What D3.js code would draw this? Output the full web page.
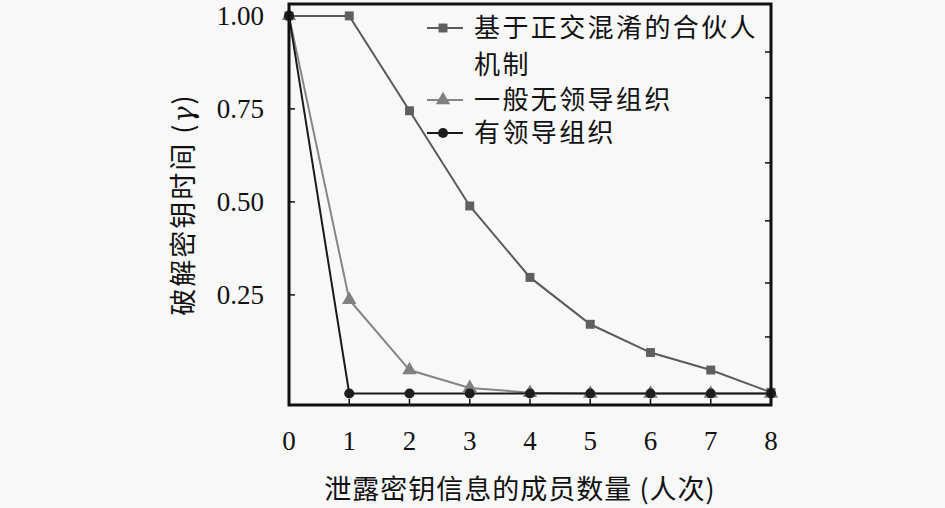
<!DOCTYPE html>
<html>
<head>
<meta charset="utf-8">
<script src="https://cdn.jsdelivr.net/npm/d3@7"></script>
<style>
  html, body { margin: 0; padding: 0; background: #f8f8f8; }
  svg { display: block; }
</style>
</head>
<body>
<div id="chart"></div>
<script>
// data
var xValues = [0, 1, 2, 3, 4, 5, 6, 7, 8];
var partnerVals = [1.00, 1.00, 0.745, 0.489, 0.297, 0.171, 0.095, 0.048, -0.012];
var leaderlessVals = [1.00, 0.237, 0.048, 0.000, -0.013, -0.015, -0.015, -0.015, -0.015];
var leaderVals = [1.00, -0.015, -0.015, -0.015, -0.015, -0.015, -0.015, -0.015, -0.015];
var yTickVals = [0.25, 0.50, 0.75, 1.00];
var yRightTicks = [0.137, 0.282, 0.449, 0.605, 0.780, 0.903];
var seriesNames = ["基于正交混淆的合伙人机制", "一般无领导组织", "有领导组织"];

var width = 945, height = 508;
var plot = { left: 289, right: 771, top: 4, bottom: 405 };

var svg = d3.select("#chart")
    .append("svg")
    .attr("width", width)
    .attr("height", height);

svg.append("rect")
    .attr("width", width)
    .attr("height", height)
    .attr("fill", "#f8f8f8");

var x = d3.scaleLinear()
    .domain([0, 8])
    .range([plot.left, plot.right]);

var y = d3.scaleLinear()
    .domain([-0.046, 1.032])
    .range([plot.bottom, plot.top]);

var series = [
    { name: seriesNames[0], values: partnerVals, color: "#5f5f5f", line: "#5a5a5a", shape: "square" },
    { name: seriesNames[1], values: leaderlessVals, color: "#808080", line: "#858585", shape: "triangle" },
    { name: seriesNames[2], values: leaderVals, color: "#1e1e1e", line: "#1a1a1a", shape: "circle" }
];

function symbolFor(shape) {
    if (shape === "square") return d3.symbol().type(d3.symbolSquare).size(80);
    if (shape === "triangle") return d3.symbol().type(d3.symbolTriangle).size(90);
    return d3.symbol().type(d3.symbolCircle).size(80);
}

// inward ticks
var tickLen = 6;
var ticks = svg.append("g").attr("stroke", "#111").attr("stroke-width", 1.5);

xValues.slice(1, -1).forEach(function (v) {
    ticks.append("line")
        .attr("x1", x(v)).attr("x2", x(v))
        .attr("y1", plot.bottom).attr("y2", plot.bottom - tickLen);
});

yTickVals.slice(0, -1).forEach(function (v) {
    ticks.append("line")
        .attr("x1", plot.left).attr("x2", plot.left + tickLen)
        .attr("y1", y(v)).attr("y2", y(v));
});

yRightTicks.forEach(function (v) {
    ticks.append("line")
        .attr("x1", plot.right).attr("x2", plot.right - tickLen)
        .attr("y1", y(v)).attr("y2", y(v));
});

// lines and markers
var line = d3.line()
    .x(function (d, i) { return x(xValues[i]); })
    .y(function (d) { return y(d); });

series.forEach(function (s) {
    svg.append("path")
        .datum(s.values)
        .attr("d", line)
        .attr("fill", "none")
        .attr("stroke", s.line)
        .attr("stroke-width", 2);
});

series.forEach(function (s) {
    svg.append("g")
        .selectAll("path")
        .data(s.values)
        .enter()
        .append("path")
        .attr("d", symbolFor(s.shape))
        .attr("transform", function (d, i) { return "translate(" + x(xValues[i]) + "," + y(d) + ")"; })
        .attr("fill", s.color);
});

// frame
svg.append("rect")
    .attr("x", plot.left)
    .attr("y", plot.top)
    .attr("width", plot.right - plot.left)
    .attr("height", plot.bottom - plot.top)
    .attr("fill", "none")
    .attr("stroke", "#111")
    .attr("stroke-width", 3);

// tick labels
var serif = "'Liberation Serif', 'DejaVu Serif', serif";
var cjk = "'Noto Sans CJK SC', sans-serif";

svg.append("g")
    .selectAll("text")
    .data(xValues)
    .enter()
    .append("text")
    .attr("x", function (d) { return x(d); })
    .attr("y", 450)
    .attr("text-anchor", "middle")
    .style("font-family", serif)
    .style("font-size", "27px")
    .attr("fill", "#111")
    .text(function (d) { return d; });

svg.append("g")
    .selectAll("text")
    .data(yTickVals)
    .enter()
    .append("text")
    .attr("x", 264)
    .attr("y", function (d) { return y(d); })
    .attr("dy", "0.33em")
    .attr("text-anchor", "end")
    .style("font-family", serif)
    .style("font-size", "27px")
    .attr("fill", "#111")
    .text(function (d) { return d3.format(".2f")(d); });

// axis titles
svg.append("text")
    .attr("x", 520)
    .attr("y", 490)
    .attr("dy", "0.35em")
    .attr("text-anchor", "middle")
    .style("font-family", cjk)
    .style("font-size", "27px")
    .style("letter-spacing", "1px")
    .attr("fill", "#111")
    .text("泄露密钥信息的成员数量 (人次)");

var yTitle = svg.append("text")
    .attr("transform", "translate(184," + ((plot.top + plot.bottom) / 2) + ") rotate(-90)")
    .attr("dy", "0.35em")
    .attr("text-anchor", "middle")
    .style("font-family", cjk)
    .style("font-size", "27px")
    .style("letter-spacing", "2px")
    .attr("fill", "#111");
yTitle.append("tspan").text("破解密钥时间 (");
yTitle.append("tspan").style("font-family", "'DejaVu Serif', serif").style("font-style", "italic").text("γ");
yTitle.append("tspan").text(")");

// legend
var legendRows = [
    { s: 0, y: 28, lines: ["基于正交混淆的合伙人", "机制"] },
    { s: 1, y: 100, lines: ["一般无领导组织"] },
    { s: 2, y: 133, lines: ["有领导组织"] }
];

var legend = svg.append("g");
legendRows.forEach(function (r) {
    var s = series[r.s];
    legend.append("line")
        .attr("x1", 427).attr("x2", 463)
        .attr("y1", r.y).attr("y2", r.y)
        .attr("stroke", s.line)
        .attr("stroke-width", 2);
    legend.append("path")
        .attr("d", symbolFor(s.shape))
        .attr("transform", "translate(443," + r.y + ")")
        .attr("fill", s.color);
    r.lines.forEach(function (t, i) {
        legend.append("text")
            .attr("x", 474)
            .attr("y", r.y + i * 37)
            .attr("dy", "0.36em")
            .style("font-family", cjk)
            .style("font-size", "26px")
            .style("letter-spacing", "2.4px")
            .attr("fill", "#111")
            .text(t);
    });
});
</script>
</body>
</html>
